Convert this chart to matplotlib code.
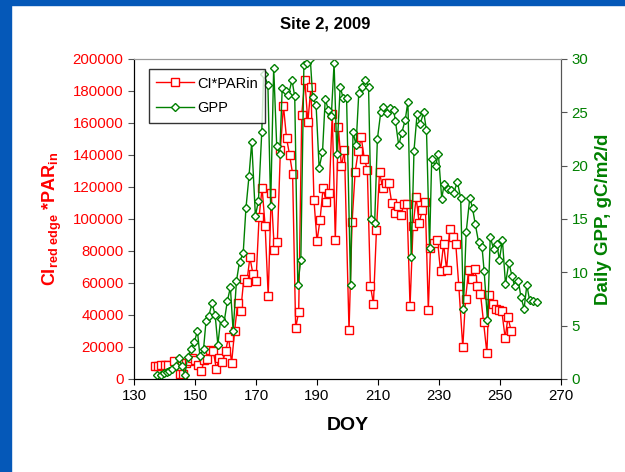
import matplotlib
matplotlib.use('Agg')
import matplotlib.pyplot as plt
from matplotlib.patches import Rectangle
from matplotlib.lines import Line2D

plt.rcParams['font.family'] = ['Liberation Sans', 'DejaVu Sans']
plt.rcParams['mathtext.fontset'] = 'custom'
plt.rcParams['mathtext.rm'] = 'Liberation Sans'
plt.rcParams['mathtext.bf'] = 'Liberation Sans:bold'

# CI red edge * PARin
ci_doy = [137, 138, 139, 140, 141, 143, 145, 146, 147, 148, 149, 150, 151, 152, 153, 154,
          155, 156, 157, 158, 159, 160, 161, 162, 163, 164, 165, 166, 167, 168, 169, 170,
          171, 172, 173, 174, 175, 176, 177, 178, 179, 180, 181, 182, 183, 184, 185, 186,
          187, 188, 189, 190, 191, 192, 193, 194, 195, 196, 197, 198, 199, 200.5, 201.5, 202.5,
          203.5, 204.5, 205.5, 206.5, 207.5, 208.5, 209.5, 210.5, 211.5, 212.5, 213.5, 214.5, 215.5, 216.5,
          217.5, 218.5, 219.5, 220.5, 221.5, 222.5, 223.5, 224.5, 225.5, 226.5, 227.2, 228.5, 229.5, 230.5,
          231.5, 232.5, 233.5, 234.5, 235.5, 236.5, 237.8, 238.7, 239.7, 240.7, 241.7, 242.6,
          243.6, 244.6, 245.7, 246.4, 247.6, 248.6, 249.6, 250.6, 251.7, 252.6, 253.7]
ci_par = [8300, 8300, 9000, 9000, 9000, 11000, 3300, 3300, 10000, 11000, 13000, 12000,
          9000, 4800, 12000, 12700, 18300, 17300, 6300, 13100, 10400, 17300, 26200, 10000,
          30200, 47500, 42700, 62700, 60600, 76000, 65600, 61000, 101000, 119400, 95400,
          52000, 116000, 80800, 85600, 143300, 170800, 150600, 140200, 128300, 31900, 41900,
          165200, 187000, 160600, 182300, 112000, 86000, 99600, 119400, 110600, 116200,
          165800, 87000, 157300, 132900, 142900, 30400, 97900, 129200, 142300, 151000,
          137700, 130800, 58300, 47100, 93300, 129200, 119400, 122500, 122500, 110000,
          103700, 107900, 102700, 109600, 109600, 45400, 95400, 113500, 97500, 105400,
          110600, 43300, 81900, 85000, 87100, 67300, 84400, 68300, 93700, 88500, 84400,
          57900, 19800, 50000, 67900, 62500, 68800, 57900, 53300, 35600, 16300, 52700,
          46900, 44000, 43300, 42300, 25600, 38500, 29800]

# Daily GPP, gC/m2/d
gpp_doy = [137.6, 138.7, 139.7, 140.7, 141.6, 142.6, 143.7, 144.6, 145.7, 146.7, 147.6,
           148.7, 149.8, 150.8, 151.6, 152.8, 153.6, 154.5, 155.6, 156.6, 157.5, 158.4,
           159.5, 160.6, 161.6, 162.5, 163.6, 164.6, 165.8, 166.7, 167.7, 168.6, 169.8,
           170.8, 171.9, 172.5, 173.9, 174.8, 175.8, 176.8, 177.8, 178.6, 179.7, 180.6,
           181.8, 182.7, 183.7, 184.7, 185.7, 186.6, 187.8, 188.6, 189.7, 190.7, 191.8,
           192.7, 193.7, 194.7, 195.6, 196.5, 197.6, 198.6, 199.7, 201.0, 201.8, 202.8,
           203.7, 204.8, 205.9, 206.9, 207.8, 208.9, 209.8, 210.9, 211.8, 212.9, 213.9,
           215.1, 215.7, 216.8, 217.8, 218.9, 219.8, 220.9, 221.8, 222.8, 223.8, 225.0,
           225.9, 226.9, 227.6, 228.9, 229.8, 230.9, 231.7, 232.9, 233.8, 234.8, 236.0,
           237.1, 238.0, 238.9, 240.1, 241.0, 241.9, 243.0, 244.1, 244.8, 245.9, 246.8,
           247.9, 248.9, 249.8, 250.8, 251.8, 252.9, 253.9, 254.8, 256.0, 256.9, 257.9,
           258.8, 259.7, 260.8, 262.1]
gpp = [0.4, 0.4, 0.56, 0.66, 0.78, 0.94, 1.25, 1.97, 1.19, 0.4, 2.1, 2.8, 3.5, 4.5, 2.2,
       2.8, 5.4, 5.9, 7.1, 6.0, 3.2, 5.6, 5.25, 7.3, 8.6, 4.5, 9.2, 11.0, 11.8, 16.0, 19.0,
       22.2, 15.3, 16.7, 23.2, 28.6, 27.6, 16.2, 29.2, 21.8, 21.1, 27.3, 27.0, 26.6, 28.0,
       26.5, 8.8, 11.2, 29.4, 29.6, 30.0, 26.4, 25.7, 19.8, 21.25, 26.25, 25.25, 24.7, 29.6,
       21.1, 27.4, 26.3, 26.3, 8.8, 23.2, 21.9, 26.8, 27.4, 28.0, 27.4, 15.0, 14.6, 22.5,
       25.0, 25.5, 24.9, 25.4, 25.25, 24.2, 21.9, 23.1, 24.25, 26.0, 11.4, 21.4, 24.8, 23.9,
       25.0, 23.3, 12.3, 20.6, 20.0, 21.1, 16.9, 18.3, 17.8, 17.7, 17.4, 18.5, 17.0, 6.6,
       13.75, 17.0, 16.0, 14.5, 12.8, 12.4, 10.1, 5.5, 13.3, 12.2, 12.7, 11.2, 13.0, 8.9,
       10.9, 9.7, 8.7, 9.2, 7.65, 6.6, 8.8, 7.4, 7.3, 7.2]

red = '#ff0000'
green = '#008000'

fig = plt.figure(figsize=(6.25, 4.72), dpi=100)
# slide frame
fig.patches.append(Rectangle((0, 0), 11 / 625, 1, transform=fig.transFigure,
                             color='#0558b8', zorder=0))
fig.patches.append(Rectangle((0, 1 - 5 / 472), 1, 5 / 472, transform=fig.transFigure,
                             color='#0558b8', zorder=0))

ax = fig.add_axes([134 / 625, 93 / 472, 427 / 625, 320 / 472])
ax2 = ax.twinx()

ax.plot(ci_doy, ci_par, color=red, lw=1, marker='s', ms=5.5, mfc='white', mec=red, mew=1)
ax2.plot(gpp_doy, gpp, color=green, lw=1, marker='D', ms=4.3, mfc='white', mec=green, mew=1)

ax.set_xlim(130, 270)
ax.set_xticks(range(130, 271, 20))
ax.set_ylim(0, 200000)
ax.set_yticks(range(0, 200001, 20000))
ax2.set_ylim(0, 30)
ax2.set_yticks(range(0, 31, 5))

ax.tick_params(axis='y', colors=red, labelsize=10.8, length=4, direction='out')
ax.tick_params(axis='x', labelsize=10.8, length=4, direction='out')
ax2.tick_params(axis='y', colors=green, labelsize=10.8, length=4, direction='out')
for a in (ax, ax2):
    a.spines['top'].set_color('#999999')
    a.spines['right'].set_color('#555555')
    a.spines['left'].set_color('black')
    a.spines['bottom'].set_color('black')
ax.tick_params(axis='y', color='#555555')
ax2.tick_params(axis='y', color='#555555')

fig.text(325 / 625, 1 - 24 / 472, 'Site 2, 2009', fontsize=12, fontweight='bold',
         ha='center', va='center')
ax.set_xlabel('DOY', fontsize=14, fontweight='bold', labelpad=10)
ax.set_ylabel(r'$\mathbf{CI_{red\ edge}}$ $\mathbf{*PAR_{in}}$', color=red, fontsize=13,
              labelpad=6)
ax2.set_ylabel('Daily GPP, gC/m2/d', color=green, fontsize=13.5, fontweight='bold', labelpad=5)

handles = [Line2D([], [], color=red, lw=1, marker='s', ms=5.5, mfc='white', mec=red),
           Line2D([], [], color=green, lw=1, marker='D', ms=4.3, mfc='white', mec=green)]
leg = ax2.legend(handles, ['CI*PARin', 'GPP'], loc='upper left', bbox_to_anchor=(0.035, 0.968),
                 borderaxespad=0, fontsize=10.5, frameon=True, fancybox=False, edgecolor='black',
                 handlelength=2.6, borderpad=0.5, labelspacing=0.75, handletextpad=0.2)
leg.get_frame().set_linewidth(1)

fig.savefig('out.png', dpi=100)
